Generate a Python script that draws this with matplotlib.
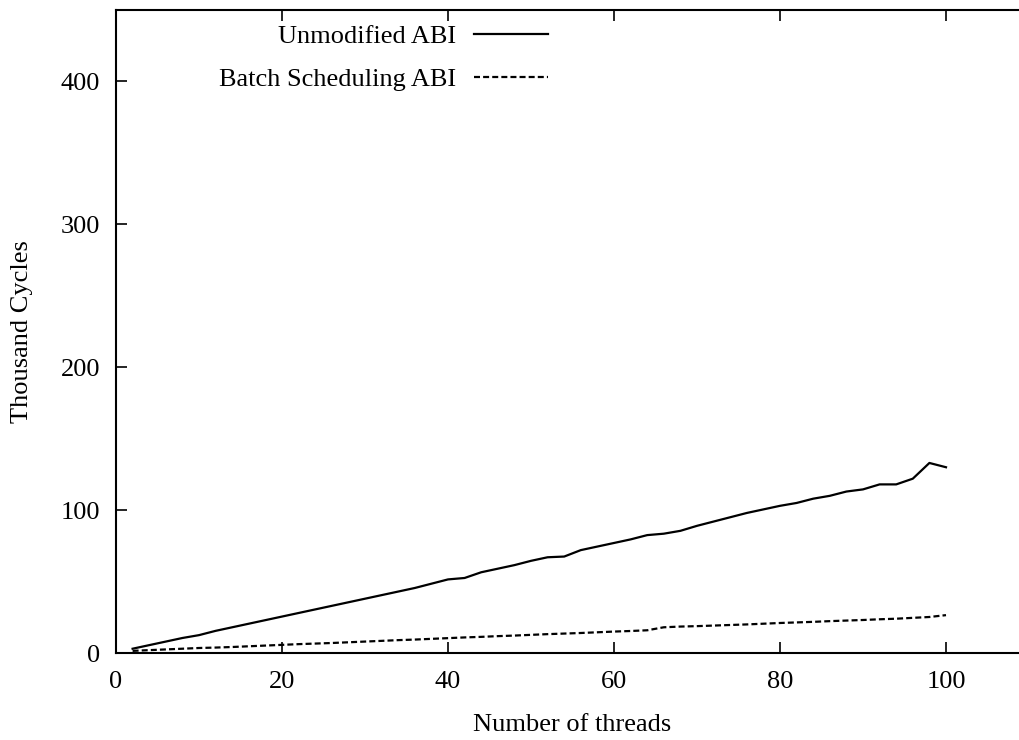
import matplotlib
matplotlib.use("Agg")
import matplotlib.pyplot as plt

threads = list(range(2, 101, 2))
unmodified = [3.0, 5.5, 8.0, 10.5, 12.5, 15.5, 18.0, 20.5, 23.0, 25.5,
              28.0, 30.5, 33.0, 35.5, 38.0, 40.5, 43.0, 45.5, 48.5, 51.5,
              52.5, 56.5, 59.0, 61.5, 64.5, 67.0, 67.5, 72.0, 74.5, 77.0,
              79.5, 82.5, 83.5, 85.5, 89.0, 92.0, 95.0, 98.0, 100.5, 103.0,
              105.0, 108.0, 110.0, 113.0, 114.5, 118.0, 118.0, 122.0, 133.0, 130.0]
batch = [1.5, 2.0, 2.5, 3.0, 3.5, 3.8, 4.2, 4.7, 5.2, 5.7,
         6.2, 6.6, 7.0, 7.5, 8.0, 8.5, 9.0, 9.4, 9.9, 10.4,
         10.9, 11.3, 11.8, 12.2, 12.7, 13.2, 13.6, 14.0, 14.5, 15.0,
         15.4, 15.9, 18.0, 18.5, 18.8, 19.2, 19.6, 20.0, 20.5, 21.0,
         21.4, 21.8, 22.3, 22.7, 23.1, 23.6, 24.0, 24.6, 25.2, 26.5]
labels = ["Unmodified ABI", "Batch Scheduling ABI"]
xticks = [0, 20, 40, 60, 80, 100]
yticks = [0, 100, 200, 300, 400]

plt.rcParams['font.family'] = ['Liberation Serif', 'DejaVu Serif']
FS = 19

fig = plt.figure(figsize=(10.19, 7.40), dpi=100)
ax = fig.add_axes([116/1019, 87/740, (1029-116)/1019, (653-10)/740])

ax.plot(threads, unmodified, color='black', lw=1.6, ls='-', label=labels[0])
ax.plot(threads, batch, color='black', lw=1.6, ls=(0, (2.7, 1.4)), label=labels[1])

ax.set_xlim(0, 110)
ax.set_ylim(0, 450)
ax.set_xticks(xticks)
ax.set_yticks(yticks)
ax.tick_params(direction='in', length=8, width=1.2, top=True, right=False,
               labelsize=FS)
ax.tick_params(axis='x', pad=13)
ax.tick_params(axis='y', pad=11.5)
for s in ax.spines.values():
    s.set_linewidth(1.5)

ax.set_xlabel("Number of threads", fontsize=FS, labelpad=15)
ax.set_ylabel("Thousand Cycles", fontsize=FS, labelpad=20)

leg = ax.legend(loc='upper right', bbox_to_anchor=(548/1019, 1 - 25/740),
                bbox_transform=fig.transFigure, frameon=False, markerfirst=False,
                fontsize=FS, handlelength=2.8, handletextpad=0.68,
                labelspacing=0.73, borderpad=0, borderaxespad=0)

fig.savefig("out.png", dpi=100)
